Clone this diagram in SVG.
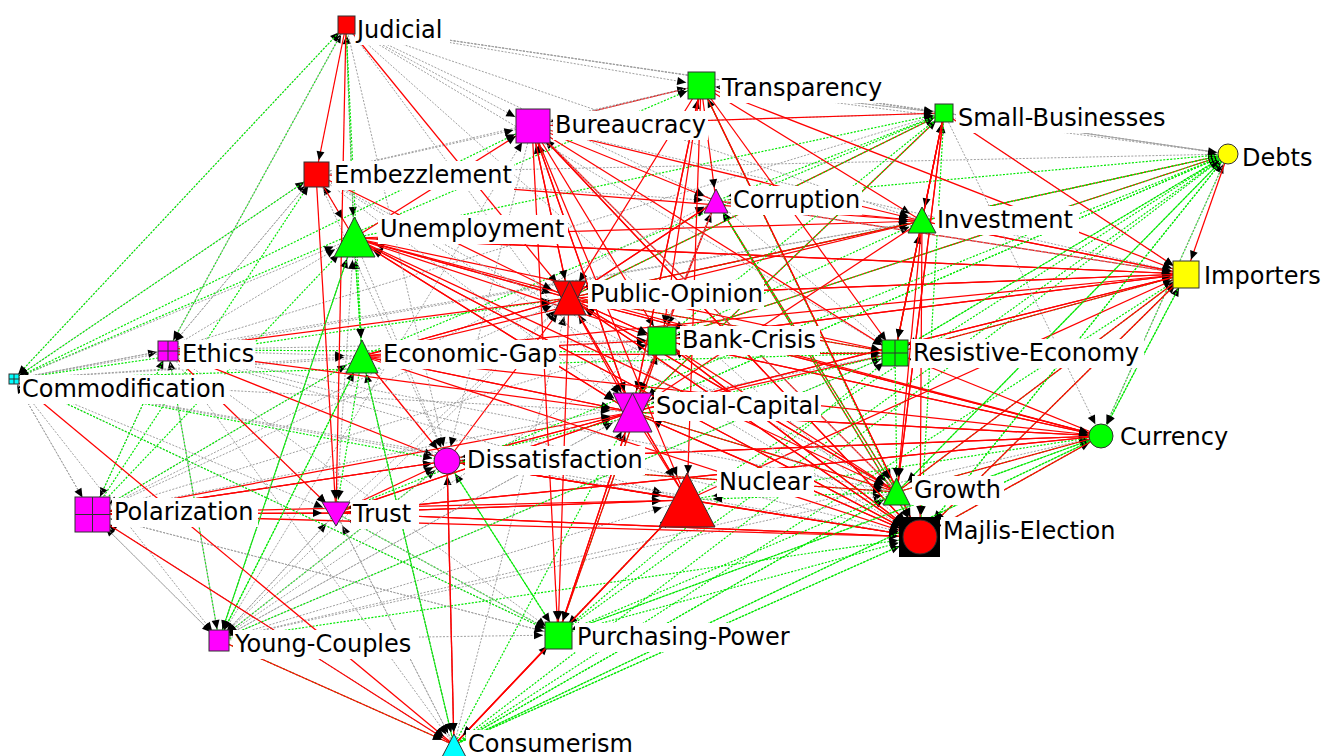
<svg xmlns="http://www.w3.org/2000/svg" width="1328" height="756" viewBox="0 0 1328 756">
<style>
.g{stroke:#a0a0a0;stroke-width:1;stroke-dasharray:2 1.5;fill:none}
.v{stroke:#00e800;stroke-width:1.2;stroke-dasharray:2 1.5;fill:none}
.r{stroke:#ff0000;stroke-width:1.25;fill:none}
.n{stroke:#303030;stroke-width:1}
.x{stroke:#303030;stroke-width:1;fill:none}
.lb{fill:#ffffff}
.t{font-family:"DejaVu Sans",Verdana,sans-serif;font-size:24px;fill:#000000}
</style>
<defs>
<marker id="a6" markerUnits="userSpaceOnUse" markerWidth="9" markerHeight="8" refX="15" refY="4" orient="auto" overflow="visible"><path d="M0 0L9 4L0 8z"/></marker>
<marker id="a10" markerUnits="userSpaceOnUse" markerWidth="9" markerHeight="8" refX="19" refY="4" orient="auto" overflow="visible"><path d="M0 0L9 4L0 8z"/></marker>
<marker id="a11" markerUnits="userSpaceOnUse" markerWidth="9" markerHeight="8" refX="20" refY="4" orient="auto" overflow="visible"><path d="M0 0L9 4L0 8z"/></marker>
<marker id="a13" markerUnits="userSpaceOnUse" markerWidth="9" markerHeight="8" refX="22" refY="4" orient="auto" overflow="visible"><path d="M0 0L9 4L0 8z"/></marker>
<marker id="a14" markerUnits="userSpaceOnUse" markerWidth="9" markerHeight="8" refX="23" refY="4" orient="auto" overflow="visible"><path d="M0 0L9 4L0 8z"/></marker>
<marker id="a15" markerUnits="userSpaceOnUse" markerWidth="9" markerHeight="8" refX="24" refY="4" orient="auto" overflow="visible"><path d="M0 0L9 4L0 8z"/></marker>
<marker id="a16" markerUnits="userSpaceOnUse" markerWidth="9" markerHeight="8" refX="25" refY="4" orient="auto" overflow="visible"><path d="M0 0L9 4L0 8z"/></marker>
<marker id="a18" markerUnits="userSpaceOnUse" markerWidth="9" markerHeight="8" refX="27" refY="4" orient="auto" overflow="visible"><path d="M0 0L9 4L0 8z"/></marker>
<marker id="a19" markerUnits="userSpaceOnUse" markerWidth="9" markerHeight="8" refX="28" refY="4" orient="auto" overflow="visible"><path d="M0 0L9 4L0 8z"/></marker>
<marker id="a22" markerUnits="userSpaceOnUse" markerWidth="9" markerHeight="8" refX="31" refY="4" orient="auto" overflow="visible"><path d="M0 0L9 4L0 8z"/></marker>
<marker id="a28" markerUnits="userSpaceOnUse" markerWidth="9" markerHeight="8" refX="35" refY="4" orient="auto" overflow="visible"><path d="M0 0L9 4L0 8z"/></marker>
</defs>
<rect width="1328" height="756" fill="#ffffff"/>
<g id="connectors">
<g id="to-judicial" marker-end="url(#a10)">
<path class="g" d="M14 379L346 25"/><path class="g" d="M944 113L346 25"/><path class="g" d="M1228 154L346 25"/>
<path class="v" d="M168 350L346 25"/><path class="v" d="M354 238L346 25"/>
</g>
<g id="to-embezzlement" marker-end="url(#a14)">
<path class="g" d="M14 379L316 174"/><path class="g" d="M168 350L316 174"/><path class="g" d="M354 238L316 174"/>
<path class="v" d="M92 514L316 174"/>
<path class="r" d="M346 25L316 174"/>
</g>
<g id="to-transparency" marker-end="url(#a15)">
<path class="g" d="M346 25L701 85"/><path class="g" d="M316 174L701 85"/><path class="g" d="M944 113L701 85"/><path class="g" d="M1228 154L701 85"/>
<path class="v" d="M14 379L701 85"/>
<path class="r" d="M532 126L701 85"/><path class="r" d="M632 412L701 85"/><path class="r" d="M920 537L701 85"/>
</g>
<g id="to-bureaucracy" marker-end="url(#a19)">
<path class="g" d="M346 25L532 126"/><path class="g" d="M316 174L532 126"/><path class="g" d="M944 113L532 126"/><path class="g" d="M701 85L532 126"/><path class="g" d="M219 640L532 126"/>
<path class="v" d="M14 379L532 126"/>
<path class="r" d="M354 238L532 126"/><path class="r" d="M632 412L532 126"/><path class="r" d="M569 298L532 126"/><path class="r" d="M920 537L532 126"/><path class="r" d="M897 492L532 126"/>
</g>
<g id="to-small-businesses" marker-end="url(#a11)">
<path class="g" d="M701 85L944 113"/><path class="g" d="M1228 154L944 113"/><path class="g" d="M346 25L944 113"/><path class="g" d="M168 350L944 113"/>
<path class="v" d="M354 238L944 113"/><path class="v" d="M362 356L944 113"/>
<path class="r" d="M922 221L944 113"/><path class="r" d="M895 353L944 113"/><path class="r" d="M897 492L944 113"/><path class="r" d="M569 298L944 113"/><path class="r" d="M532 126L944 113"/><path class="r" d="M632 412L944 113"/>
</g>
<g id="to-debts" marker-end="url(#a11)">
<path class="g" d="M944 113L1228 154"/><path class="g" d="M316 174L1228 154"/>
<path class="v" d="M920 537L1228 154"/><path class="v" d="M632 412L1228 154"/><path class="v" d="M897 492L1228 154"/><path class="v" d="M895 353L1228 154"/><path class="v" d="M1101 436L1228 154"/><path class="v" d="M687 500L1228 154"/><path class="v" d="M558 635L1228 154"/><path class="v" d="M454 745L1228 154"/>
<path class="r" d="M922 221L1228 154"/><path class="r" d="M662 340L1228 154"/>
</g>
<g id="to-corruption" marker-end="url(#a13)">
<path class="g" d="M346 25L716 201"/><path class="g" d="M316 174L716 201"/><path class="g" d="M92 514L716 201"/>
<path class="v" d="M944 113L716 201"/><path class="v" d="M1228 154L716 201"/>
<path class="r" d="M701 85L716 201"/><path class="r" d="M532 126L716 201"/><path class="r" d="M1186 274L716 201"/><path class="r" d="M632 412L716 201"/><path class="r" d="M569 298L716 201"/><path class="r" d="M897 492L716 201"/><path class="r" d="M920 537L716 201"/>
</g>
<g id="to-investment" marker-end="url(#a14)">
<path class="g" d="M346 25L922 221"/><path class="g" d="M168 350L922 221"/><path class="g" d="M14 379L922 221"/>
<path class="v" d="M895 353L922 221"/><path class="v" d="M662 340L922 221"/><path class="v" d="M1228 154L922 221"/>
<path class="r" d="M316 174L922 221"/><path class="r" d="M701 85L922 221"/><path class="r" d="M944 113L922 221"/><path class="r" d="M1186 274L922 221"/><path class="r" d="M716 201L922 221"/><path class="r" d="M569 298L922 221"/><path class="r" d="M532 126L922 221"/><path class="r" d="M354 238L922 221"/><path class="r" d="M362 356L922 221"/>
</g>
<g id="to-unemployment" marker-end="url(#a22)">
<path class="g" d="M14 379L354 238"/><path class="g" d="M168 350L354 238"/><path class="g" d="M346 25L354 238"/><path class="g" d="M336 513L354 238"/>
<path class="v" d="M362 356L354 238"/><path class="v" d="M92 514L354 238"/><path class="v" d="M219 640L354 238"/>
<path class="r" d="M1186 274L354 238"/><path class="r" d="M569 298L354 238"/><path class="r" d="M920 537L354 238"/><path class="r" d="M632 412L354 238"/><path class="r" d="M316 174L354 238"/>
</g>
<g id="to-importers" marker-end="url(#a15)">
<path class="g" d="M532 126L1186 274"/><path class="g" d="M716 201L1186 274"/><path class="g" d="M944 113L1186 274"/>
<path class="v" d="M1101 436L1186 274"/><path class="v" d="M897 492L1186 274"/><path class="v" d="M920 537L1186 274"/><path class="v" d="M454 745L1186 274"/><path class="v" d="M895 353L1186 274"/>
<path class="r" d="M1228 154L1186 274"/><path class="r" d="M944 113L1186 274"/><path class="r" d="M354 238L1186 274"/><path class="r" d="M569 298L1186 274"/><path class="r" d="M922 221L1186 274"/><path class="r" d="M662 340L1186 274"/><path class="r" d="M687 500L1186 274"/><path class="r" d="M362 356L1186 274"/><path class="r" d="M701 85L1186 274"/><path class="r" d="M632 412L1186 274"/>
</g>
<g id="to-public-opinion" marker-end="url(#a19)">
<path class="g" d="M92 514L569 298"/><path class="g" d="M219 640L569 298"/><path class="g" d="M454 745L569 298"/><path class="g" d="M336 513L569 298"/>
<path class="v" d="M14 379L569 298"/><path class="v" d="M1228 154L569 298"/><path class="v" d="M895 353L569 298"/><path class="v" d="M944 113L569 298"/>
<path class="r" d="M346 25L569 298"/><path class="r" d="M316 174L569 298"/><path class="r" d="M354 238L569 298"/><path class="r" d="M532 126L569 298"/><path class="r" d="M701 85L569 298"/><path class="r" d="M716 201L569 298"/><path class="r" d="M922 221L569 298"/><path class="r" d="M1186 274L569 298"/><path class="r" d="M168 350L569 298"/><path class="r" d="M362 356L569 298"/><path class="r" d="M920 537L569 298"/><path class="r" d="M1101 436L569 298"/><path class="r" d="M662 340L569 298"/><path class="r" d="M897 492L569 298"/><path class="r" d="M687 500L569 298"/><path class="r" d="M447 461L569 298"/>
</g>
<g id="to-bank-crisis" marker-end="url(#a16)">
<path class="g" d="M168 350L662 340"/><path class="g" d="M14 379L662 340"/><path class="g" d="M92 514L662 340"/>
<path class="v" d="M558 635L662 340"/><path class="v" d="M1228 154L662 340"/><path class="v" d="M944 113L662 340"/>
<path class="r" d="M569 298L662 340"/><path class="r" d="M354 238L662 340"/><path class="r" d="M362 356L662 340"/><path class="r" d="M701 85L662 340"/><path class="r" d="M532 126L662 340"/><path class="r" d="M716 201L662 340"/><path class="r" d="M1186 274L662 340"/><path class="r" d="M920 537L662 340"/><path class="r" d="M1101 436L662 340"/>
</g>
<g id="to-resistive-economy" marker-end="url(#a15)">
<path class="g" d="M346 25L895 353"/><path class="g" d="M716 201L895 353"/><path class="g" d="M219 640L895 353"/><path class="g" d="M92 514L895 353"/>
<path class="v" d="M14 379L895 353"/><path class="v" d="M168 350L895 353"/><path class="v" d="M558 635L895 353"/><path class="v" d="M1228 154L895 353"/>
<path class="r" d="M922 221L895 353"/><path class="r" d="M944 113L895 353"/><path class="r" d="M1186 274L895 353"/><path class="r" d="M1101 436L895 353"/><path class="r" d="M532 126L895 353"/><path class="r" d="M701 85L895 353"/><path class="r" d="M354 238L895 353"/><path class="r" d="M362 356L895 353"/><path class="r" d="M569 298L895 353"/>
</g>
<g id="to-ethics" marker-end="url(#a11)">
<path class="g" d="M14 379L168 350"/><path class="g" d="M346 25L168 350"/><path class="g" d="M316 174L168 350"/><path class="g" d="M92 514L168 350"/>
<path class="v" d="M219 640L168 350"/>
</g>
<g id="to-economic-gap" marker-end="url(#a18)">
<path class="g" d="M168 350L362 356"/><path class="g" d="M14 379L362 356"/><path class="g" d="M92 514L362 356"/>
<path class="v" d="M354 238L362 356"/><path class="v" d="M346 25L362 356"/><path class="v" d="M219 640L362 356"/><path class="v" d="M454 745L362 356"/>
<path class="r" d="M569 298L362 356"/><path class="r" d="M632 412L362 356"/>
</g>
<g id="to-commodification" marker-end="url(#a6)">
<path class="g" d="M168 350L14 379"/><path class="g" d="M92 514L14 379"/>
<path class="v" d="M316 174L14 379"/><path class="v" d="M346 25L14 379"/>
</g>
<g id="to-social-capital" marker-end="url(#a22)">
<path class="g" d="M346 25L632 412"/><path class="g" d="M316 174L632 412"/><path class="g" d="M716 201L632 412"/><path class="g" d="M219 640L632 412"/><path class="g" d="M14 379L632 412"/>
<path class="v" d="M1228 154L632 412"/><path class="v" d="M944 113L632 412"/><path class="v" d="M897 492L632 412"/><path class="v" d="M454 745L632 412"/>
<path class="r" d="M569 298L632 412"/><path class="r" d="M662 340L632 412"/><path class="r" d="M354 238L632 412"/><path class="r" d="M362 356L632 412"/><path class="r" d="M168 350L632 412"/><path class="r" d="M92 514L632 412"/><path class="r" d="M447 461L632 412"/><path class="r" d="M336 513L632 412"/><path class="r" d="M1101 436L632 412"/><path class="r" d="M920 537L632 412"/><path class="r" d="M532 126L632 412"/><path class="r" d="M701 85L632 412"/><path class="r" d="M558 635L632 412"/><path class="r" d="M1186 274L632 412"/><path class="r" d="M922 221L632 412"/><path class="r" d="M895 353L632 412"/>
</g>
<g id="to-currency" marker-end="url(#a13)">
<path class="g" d="M1228 154L1101 436"/><path class="g" d="M944 113L1101 436"/><path class="g" d="M219 640L1101 436"/>
<path class="v" d="M920 537L1101 436"/><path class="v" d="M1186 274L1101 436"/><path class="v" d="M897 492L1101 436"/><path class="v" d="M558 635L1101 436"/><path class="v" d="M454 745L1101 436"/>
<path class="r" d="M632 412L1101 436"/><path class="r" d="M336 513L1101 436"/><path class="r" d="M447 461L1101 436"/><path class="r" d="M569 298L1101 436"/><path class="r" d="M354 238L1101 436"/><path class="r" d="M662 340L1101 436"/><path class="r" d="M362 356L1101 436"/>
</g>
<g id="to-dissatisfaction" marker-end="url(#a15)">
<path class="g" d="M354 238L447 461"/><path class="g" d="M316 174L447 461"/><path class="g" d="M346 25L447 461"/><path class="g" d="M532 126L447 461"/><path class="g" d="M92 514L447 461"/>
<path class="v" d="M219 640L447 461"/><path class="v" d="M558 635L447 461"/><path class="v" d="M14 379L447 461"/><path class="v" d="M895 353L447 461"/><path class="v" d="M897 492L447 461"/>
<path class="r" d="M454 745L447 461"/><path class="r" d="M92 514L447 461"/><path class="r" d="M687 500L447 461"/><path class="r" d="M632 412L447 461"/><path class="r" d="M336 513L447 461"/><path class="r" d="M1101 436L447 461"/><path class="r" d="M168 350L447 461"/><path class="r" d="M362 356L447 461"/><path class="r" d="M920 537L447 461"/>
</g>
<g id="to-nuclear" marker-end="url(#a28)">
<path class="g" d="M219 640L687 500"/><path class="g" d="M454 745L687 500"/><path class="g" d="M168 350L687 500"/><path class="g" d="M14 379L687 500"/>
<path class="v" d="M897 492L687 500"/><path class="v" d="M558 635L687 500"/><path class="v" d="M1101 436L687 500"/>
<path class="r" d="M632 412L687 500"/><path class="r" d="M447 461L687 500"/><path class="r" d="M336 513L687 500"/><path class="r" d="M532 126L687 500"/><path class="r" d="M569 298L687 500"/><path class="r" d="M701 85L687 500"/><path class="r" d="M92 514L687 500"/>
</g>
<g id="to-growth" marker-end="url(#a15)">
<path class="g" d="M532 126L897 492"/><path class="g" d="M316 174L897 492"/><path class="g" d="M168 350L897 492"/><path class="g" d="M219 640L897 492"/>
<path class="v" d="M1228 154L897 492"/><path class="v" d="M701 85L897 492"/><path class="v" d="M895 353L897 492"/><path class="v" d="M716 201L897 492"/><path class="v" d="M454 745L897 492"/>
<path class="r" d="M922 221L897 492"/><path class="r" d="M944 113L897 492"/><path class="r" d="M1186 274L897 492"/><path class="r" d="M1101 436L897 492"/><path class="r" d="M662 340L897 492"/><path class="r" d="M569 298L897 492"/><path class="r" d="M632 412L897 492"/><path class="r" d="M354 238L897 492"/><path class="r" d="M447 461L897 492"/>
</g>
<g id="to-polarization" marker-end="url(#a19)">
<path class="g" d="M219 640L92 514"/><path class="g" d="M454 745L92 514"/><path class="g" d="M14 379L92 514"/><path class="g" d="M558 635L92 514"/>
<path class="v" d="M168 350L92 514"/><path class="v" d="M362 356L92 514"/>
<path class="r" d="M447 461L92 514"/><path class="r" d="M336 513L92 514"/>
</g>
<g id="to-trust" marker-end="url(#a14)">
<path class="g" d="M454 745L336 513"/><path class="g" d="M14 379L336 513"/><path class="g" d="M219 640L336 513"/><path class="g" d="M168 350L336 513"/>
<path class="v" d="M558 635L336 513"/><path class="v" d="M1228 154L336 513"/><path class="v" d="M362 356L336 513"/>
<path class="r" d="M316 174L336 513"/><path class="r" d="M92 514L336 513"/><path class="r" d="M687 500L336 513"/><path class="r" d="M920 537L336 513"/><path class="r" d="M168 350L336 513"/><path class="r" d="M1101 436L336 513"/><path class="r" d="M632 412L336 513"/><path class="r" d="M346 25L336 513"/>
</g>
<g id="to-majlis-election" marker-end="url(#a22)">
<path class="g" d="M168 350L920 537"/><path class="g" d="M14 379L920 537"/><path class="g" d="M346 25L920 537"/><path class="g" d="M316 174L920 537"/>
<path class="v" d="M454 745L920 537"/><path class="v" d="M558 635L920 537"/><path class="v" d="M1228 154L920 537"/><path class="v" d="M219 640L920 537"/><path class="v" d="M944 113L920 537"/><path class="v" d="M716 201L920 537"/>
<path class="r" d="M92 514L920 537"/><path class="r" d="M336 513L920 537"/><path class="r" d="M447 461L920 537"/><path class="r" d="M632 412L920 537"/><path class="r" d="M569 298L920 537"/><path class="r" d="M532 126L920 537"/><path class="r" d="M701 85L920 537"/><path class="r" d="M922 221L920 537"/><path class="r" d="M1186 274L920 537"/><path class="r" d="M1101 436L920 537"/><path class="r" d="M354 238L920 537"/><path class="r" d="M662 340L920 537"/><path class="r" d="M362 356L920 537"/><path class="r" d="M687 500L920 537"/>
</g>
<g id="to-young-couples" marker-end="url(#a11)">
<path class="g" d="M14 379L219 640"/><path class="g" d="M92 514L219 640"/><path class="g" d="M336 513L219 640"/><path class="g" d="M168 350L219 640"/><path class="g" d="M447 461L219 640"/><path class="g" d="M632 412L219 640"/><path class="g" d="M662 340L219 640"/><path class="g" d="M354 238L219 640"/>
<path class="v" d="M362 356L219 640"/><path class="v" d="M895 353L219 640"/><path class="v" d="M354 238L219 640"/>
</g>
<g id="to-purchasing-power" marker-end="url(#a15)">
<path class="g" d="M92 514L558 635"/><path class="g" d="M168 350L558 635"/><path class="g" d="M219 640L558 635"/><path class="g" d="M336 513L558 635"/><path class="g" d="M14 379L558 635"/>
<path class="v" d="M447 461L558 635"/><path class="v" d="M14 379L558 635"/><path class="v" d="M897 492L558 635"/><path class="v" d="M1101 436L558 635"/>
<path class="r" d="M632 412L558 635"/><path class="r" d="M454 745L558 635"/><path class="r" d="M569 298L558 635"/><path class="r" d="M532 126L558 635"/><path class="r" d="M687 500L558 635"/><path class="r" d="M662 340L558 635"/>
</g>
<g id="to-consumerism" marker-end="url(#a13)">
<path class="g" d="M92 514L454 745"/><path class="g" d="M447 461L454 745"/><path class="g" d="M168 350L454 745"/><path class="g" d="M336 513L454 745"/><path class="g" d="M362 356L454 745"/>
<path class="v" d="M362 356L454 745"/><path class="v" d="M920 537L454 745"/><path class="v" d="M897 492L454 745"/><path class="v" d="M1101 436L454 745"/><path class="v" d="M219 640L454 745"/>
<path class="r" d="M14 379L454 745"/><path class="r" d="M219 640L454 745"/><path class="r" d="M687 500L454 745"/><path class="r" d="M558 635L454 745"/><path class="r" d="M447 461L454 745"/><path class="r" d="M92 514L454 745"/>
</g>
</g>
<g id="nodes">
<g id="judicial"><rect class="lb" x="355" y="16" width="95" height="29"/><rect class="n" x="338" y="16" width="17" height="18" fill="#ff0000"/><text class="t" x="357" y="38">Judicial</text></g>
<g id="transparency"><rect class="lb" x="720" y="74" width="169" height="29"/><rect class="n" x="688" y="72" width="27" height="27" fill="#00ff00"/><text class="t" x="722" y="96">Transparency</text></g>
<g id="bureaucracy"><rect class="lb" x="553" y="111" width="155" height="29"/><rect class="n" x="516" y="109" width="34" height="34" fill="#ff00ff"/><text class="t" x="555" y="133">Bureaucracy</text></g>
<g id="small-businesses"><rect class="lb" x="956" y="104" width="213" height="29"/><rect class="n" x="935" y="104" width="18" height="18" fill="#00ff00"/><text class="t" x="958" y="126">Small-Businesses</text></g>
<g id="debts"><rect class="lb" x="1240" y="144" width="74" height="29"/><circle class="n" cx="1228" cy="154" r="10" fill="#ffff00"/><text class="t" x="1242" y="166">Debts</text></g>
<g id="embezzlement"><rect class="lb" x="332" y="161" width="182" height="29"/><rect class="n" x="304" y="162" width="25" height="25" fill="#ff0000"/><text class="t" x="334" y="183">Embezzlement</text></g>
<g id="corruption"><rect class="lb" x="731" y="186" width="131" height="29"/><polygon class="n" points="704,213 728,213 716,189" fill="#ff00ff"/><text class="t" x="733" y="208">Corruption</text></g>
<g id="investment"><rect class="lb" x="935" y="206" width="144" height="29"/><polygon class="n" points="908,233 936,233 922,207" fill="#00ff00"/><text class="t" x="937" y="228">Investment</text></g>
<g id="unemployment"><rect class="lb" x="378" y="215" width="190" height="29"/><polygon class="n" points="334,257 375,257 354.5,217" fill="#00ff00"/><text class="t" x="380" y="237">Unemployment</text></g>
<g id="importers"><rect class="lb" x="1202" y="262" width="126" height="29"/><rect class="n" x="1173" y="261" width="26" height="27" fill="#ffff00"/><text class="t" x="1204" y="284">Importers</text></g>
<g id="public-opinion"><rect class="lb" x="588" y="280" width="176" height="29"/><polygon class="n" points="553,281 586,281 569.5,315" fill="#ff0000"/><polygon class="n" points="553,315 586,315 569.5,281" fill="#ff0000"/><text class="t" x="590" y="302">Public-Opinion</text></g>
<g id="bank-crisis"><rect class="lb" x="680" y="326" width="140" height="29"/><rect class="n" x="648" y="327" width="28" height="28" fill="#00ff00"/><text class="t" x="682" y="348">Bank-Crisis</text></g>
<g id="resistive-economy"><rect class="lb" x="911" y="339" width="233" height="29"/><rect class="n" x="882" y="340" width="26" height="26" fill="#00ff00"/><path class="x" d="M895 340V366M882 353H908"/><text class="t" x="913" y="361">Resistive-Economy</text></g>
<g id="ethics"><rect class="lb" x="180" y="340" width="75" height="29"/><rect class="n" x="158" y="341" width="20" height="20" fill="#ff00ff"/><path class="x" d="M168 341V361M158 351H178"/><text class="t" x="182" y="362">Ethics</text></g>
<g id="economic-gap"><rect class="lb" x="381" y="340" width="178" height="29"/><polygon class="n" points="346,373 378,373 362,340" fill="#00ff00"/><text class="t" x="383" y="362">Economic-Gap</text></g>
<g id="commodification"><rect class="lb" x="20" y="375" width="209" height="29"/><rect class="n" x="9" y="374" width="10" height="10" fill="#00ffff"/><path class="x" d="M14 374V384M9 379H19"/><text class="t" x="22" y="397">Commodification</text></g>
<g id="social-capital"><rect class="lb" x="654" y="392" width="167" height="29"/><polygon class="n" points="613,393 652,393 632.5,432" fill="#ff00ff"/><polygon class="n" points="613,432 652,432 632.5,393" fill="#ff00ff"/><text class="t" x="656" y="414">Social-Capital</text></g>
<g id="currency"><rect class="lb" x="1118" y="423" width="113" height="29"/><circle class="n" cx="1101" cy="436" r="12" fill="#00ff00"/><text class="t" x="1120" y="445">Currency</text></g>
<g id="dissatisfaction"><rect class="lb" x="465" y="446" width="180" height="29"/><circle class="n" cx="447" cy="461" r="13" fill="#ff00ff"/><text class="t" x="467" y="468">Dissatisfaction</text></g>
<g id="nuclear"><rect class="lb" x="717" y="468" width="97" height="29"/><polygon class="n" points="659,527 715,527 687,473" fill="#ff0000"/><text class="t" x="719" y="490">Nuclear</text></g>
<g id="growth"><rect class="lb" x="912" y="476" width="92" height="29"/><polygon class="n" points="883,505 910,505 896.5,478" fill="#00ff00"/><text class="t" x="914" y="498">Growth</text></g>
<g id="polarization"><rect class="lb" x="112" y="498" width="146" height="29"/><rect class="n" x="75" y="497" width="35" height="35" fill="#ff00ff"/><path class="x" d="M92.5 497V532M75 514.5H110"/><text class="t" x="114" y="520">Polarization</text></g>
<g id="trust"><rect class="lb" x="351" y="500" width="68" height="29"/><polygon class="n" points="322,502 350,502 336,526" fill="#ff00ff"/><text class="t" x="353" y="522">Trust</text></g>
<g id="majlis-election"><rect class="lb" x="941" y="517" width="181" height="29"/><rect x="899" y="517" width="41" height="40" fill="#000000"/><circle class="n" cx="920" cy="537" r="17" fill="#ff0000"/><text class="t" x="943" y="539">Majlis-Election</text></g>
<g id="young-couples"><rect class="lb" x="233" y="630" width="186" height="29"/><rect class="n" x="209" y="630" width="20" height="21" fill="#ff00ff"/><text class="t" x="235" y="652">Young-Couples</text></g>
<g id="purchasing-power"><rect class="lb" x="575" y="623" width="225" height="29"/><rect class="n" x="545" y="622" width="27" height="27" fill="#00ff00"/><text class="t" x="577" y="645">Purchasing-Power</text></g>
<g id="consumerism"><rect class="lb" x="466" y="730" width="170" height="26"/><polygon class="n" points="442,757 466,757 454,734" fill="#00ffff"/><text class="t" x="468" y="752">Consumerism</text></g>
</g>
</svg>
